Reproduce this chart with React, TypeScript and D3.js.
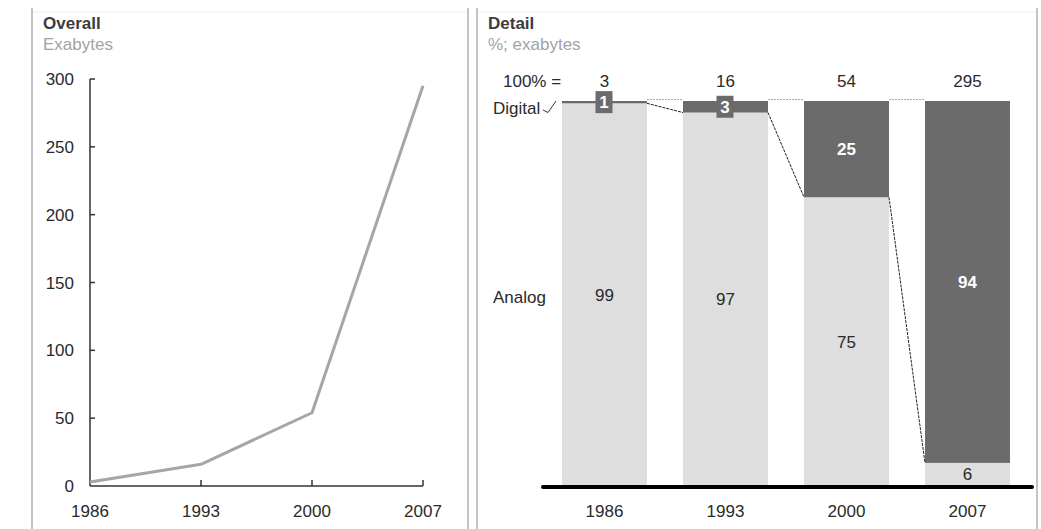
import React from "react";
import * as d3 from "d3";

const years = ["1986", "1993", "2000", "2007"];
const yearNums = [1986, 1993, 2000, 2007];
const overallExabytes = [3, 16, 54, 295];
const yTicks = [0, 50, 100, 150, 200, 250, 300];

const totals = ["3", "16", "54", "295"];
const digitalShare = [0.6, 3, 25, 94];
const digitalLabels = ["1", "3", "25", "94"];
const analogLabels = ["99", "97", "75", "6"];

const FONT = "'Liberation Sans', Arial, sans-serif";
const DARK = "#6b6b6b";
const LIGHT = "#dededf";
const TXT = "#2a2a2a";

export default function App() {
  // left chart scales
  const xL = d3.scaleLinear().domain([1986, 2007]).range([90, 423]);
  const yL = d3.scaleLinear().domain([0, 300]).range([486, 79]);
  const line = d3
    .line<number>()
    .x((_, i) => xL(yearNums[i]))
    .y((d) => yL(d));

  // right chart scales
  const xR = d3.scaleBand<string>().domain(years).range([562, 1010]).paddingInner(0.2975).paddingOuter(0);
  const bw = xR.bandwidth();
  const yR = d3.scaleLinear().domain([0, 100]).range([486, 101]);

  return (
    <svg width={1041} height={529} style={{ position: "absolute", left: 0, top: 0, background: "#fff" }} fontFamily={FONT}>
      {/* panel frames */}
      <line x1={32} x2={468} y1={12} y2={12} stroke="#efefef" strokeWidth={1} />
      <line x1={477} x2={1037} y1={12} y2={12} stroke="#efefef" strokeWidth={1} />
      <line x1={32} x2={32} y1={8} y2={529} stroke="#c4c4c4" strokeWidth={2} />
      <line x1={468} x2={468} y1={8} y2={529} stroke="#c4c4c4" strokeWidth={2} />
      <line x1={477} x2={477} y1={8} y2={529} stroke="#c4c4c4" strokeWidth={2} />
      <line x1={1037} x2={1037} y1={8} y2={529} stroke="#c4c4c4" strokeWidth={2} />

      {/* LEFT: titles */}
      <text x={43} y={29} fontSize={17} fontWeight="bold" fill="#3c3c3c">Overall</text>
      <text x={43} y={50} fontSize={17} fill="#a3a3a3">Exabytes</text>

      {/* left axes */}
      <line x1={90} x2={90} y1={yL(300)} y2={yL(0)} stroke="#333" strokeWidth={1.5} />
      <line x1={90} x2={423} y1={yL(0)} y2={yL(0)} stroke="#333" strokeWidth={1.5} />
      {yTicks.map((t) => (
        <g key={t}>
          {t > 0 && <line x1={90} x2={95} y1={yL(t)} y2={yL(t)} stroke="#333" strokeWidth={1.5} />}
          <text x={74} y={yL(t) + 6} fontSize={17} textAnchor="end" fill={TXT}>{t}</text>
        </g>
      ))}
      {yearNums.map((yr, i) => (
        <g key={yr}>
          {i > 0 && <line x1={xL(yr)} x2={xL(yr)} y1={yL(0)} y2={yL(0) - 6} stroke="#333" strokeWidth={1.5} />}
          <text x={xL(yr)} y={517} fontSize={17} textAnchor="middle" fill={TXT}>{years[i]}</text>
        </g>
      ))}
      <path d={line(overallExabytes) || ""} fill="none" stroke="#a6a6a6" strokeWidth={3} strokeLinejoin="round" />

      {/* RIGHT: titles */}
      <text x={488} y={29} fontSize={17} fontWeight="bold" fill="#3c3c3c">Detail</text>
      <text x={488} y={50} fontSize={17} fill="#a3a3a3">%; exabytes</text>

      <text x={503} y={87} fontSize={17} fill={TXT}>100% =</text>
      {years.map((yr, i) => (
        <text key={yr} x={(xR(yr) as number) + bw / 2} y={87} fontSize={17} textAnchor="middle" fill={TXT}>{totals[i]}</text>
      ))}

      {/* bars */}
      {years.map((yr, i) => {
        const x0 = xR(yr) as number;
        const dTop = yR(100);
        const dBot = yR(100 - digitalShare[i]);
        return (
          <g key={yr}>
            <rect x={x0} y={dBot} width={bw} height={yR(0) - dBot} fill={LIGHT} />
            <rect x={x0} y={dTop} width={bw} height={dBot - dTop} fill={DARK} />
          </g>
        );
      })}

      {/* connectors */}
      {years.slice(0, -1).map((yr, i) => {
        const xa = (xR(yr) as number) + bw;
        const xb = xR(years[i + 1]) as number;
        return (
          <g key={"c" + yr}>
            <line x1={xa} x2={xb} y1={yR(100) - 1.5} y2={yR(100) - 1.5} stroke="#a8a8a8" strokeWidth={1.2} strokeDasharray="2,1" />
            <line x1={xa} x2={xb} y1={yR(100 - digitalShare[i])} y2={yR(100 - digitalShare[i + 1])} stroke="#222" strokeWidth={1} strokeDasharray="3,1" />
          </g>
        );
      })}

      {/* digital labels */}
      {years.map((yr, i) => {
        const cx = (xR(yr) as number) + bw / 2;
        const segTop = yR(100);
        const segBot = yR(100 - digitalShare[i]);
        const cy = (segTop + segBot) / 2;
        const small = segBot - segTop < 22;
        return (
          <g key={"d" + yr}>
            {small && <rect x={cx - 9} y={cy - 11} width={17} height={22} fill={DARK} />}
            <text x={cx - (small ? 0.5 : 0)} y={cy + 6} fontSize={17} fontWeight="bold" textAnchor="middle" fill="#fff">{digitalLabels[i]}</text>
          </g>
        );
      })}

      {/* analog labels */}
      {years.map((yr, i) => {
        const cx = (xR(yr) as number) + bw / 2;
        const cy = (yR(100 - digitalShare[i]) + yR(0)) / 2;
        return (
          <text key={"a" + yr} x={cx} y={cy + 6} fontSize={17} textAnchor="middle" fill={TXT}>{analogLabels[i]}</text>
        );
      })}

      {/* series labels */}
      <text x={493} y={114} fontSize={17} fill={TXT}>Digital</text>
      <path d="M543,110 L548,112.5 L556,101" fill="none" stroke="#333" strokeWidth={1} />
      <text x={493} y={303} fontSize={17} fill={TXT}>Analog</text>

      {/* baseline */}
      <line x1={543} x2={1032} y1={487} y2={487} stroke="#000" strokeWidth={4} strokeLinecap="round" />

      {years.map((yr) => (
        <text key={"y" + yr} x={(xR(yr) as number) + bw / 2} y={517} fontSize={17} textAnchor="middle" fill={TXT}>{yr}</text>
      ))}
    </svg>
  );
}
